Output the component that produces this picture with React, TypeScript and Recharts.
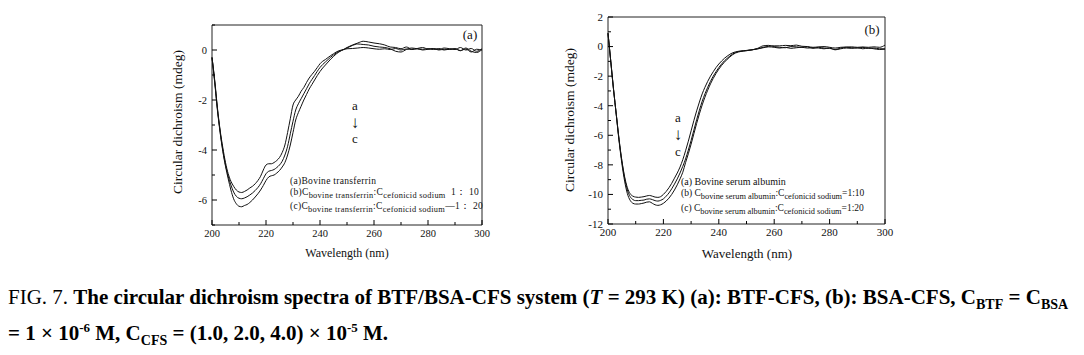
import React from 'react';
import { LineChart, Line, XAxis, YAxis, ReferenceArea } from 'recharts';

// wavelength grid (nm), shared by both panels
const WAVELENGTH = [
  200, 201, 202, 203, 204, 205, 206, 207, 208, 209, 210, 211, 212, 213, 214, 215, 216, 217, 218, 219,
  220, 221, 222, 223, 224, 225, 226, 227, 228, 229, 230, 231, 232, 233, 234, 235, 236, 237, 238, 239,
  240, 241, 242, 243, 244, 245, 246, 247, 248, 249, 250,
  252, 254, 256, 258, 260, 262, 264, 266, 268, 270, 272, 274, 276, 278, 280, 282, 284, 286, 288, 290,
  292, 294, 296, 298, 300,
];

// panel (a): bovine transferrin
const BTF_A = [
  -0.3, -1.2, -2.3, -3.2, -3.9, -4.5, -4.95, -5.25, -5.45, -5.6, -5.68, -5.7, -5.66, -5.6, -5.52, -5.45, -5.35, -5.22, -5.05, -4.8,
  -4.6, -4.55, -4.55, -4.5, -4.42, -4.3, -4.1, -3.8, -3.3, -2.75, -2.2, -2.0, -1.85, -1.65, -1.5, -1.3, -1.12, -0.98, -0.85, -0.7,
  -0.55, -0.45, -0.38, -0.3, -0.22, -0.15, -0.08, -0.03, 0.0, 0.02, 0.05,
  0.06, 0.08, 0.1, 0.08, 0.05, 0.03, 0.05, 0.02, 0.06, 0.0, 0.04, 0.02, 0.05, 0.0, 0.03, 0.05, 0.0, 0.03, 0.02, 0.05,
  -0.02, 0.04, -0.08, 0.03, 0.0,
];
const BTF_B = [
  -0.3, -1.25, -2.35, -3.25, -4.0, -4.6, -5.05, -5.4, -5.68, -5.85, -5.93, -5.95, -5.92, -5.87, -5.8, -5.72, -5.62, -5.5, -5.35, -5.15,
  -4.95, -4.85, -4.82, -4.78, -4.7, -4.6, -4.45, -4.2, -3.85, -3.35, -2.85, -2.4, -2.15, -1.95, -1.75, -1.55, -1.35, -1.18, -1.02, -0.85,
  -0.7, -0.58, -0.48, -0.38, -0.28, -0.2, -0.12, -0.06, -0.01, 0.03, 0.08,
  0.18, 0.24, 0.22, 0.2, 0.15, 0.12, 0.1, 0.05, -0.05, -0.08, 0.02, 0.08, 0.05, 0.03, 0.05, 0.02, 0.06, 0.0, 0.04, 0.05,
  -0.03, 0.08, -0.05, -0.1, 0.02,
];
const BTF_C = [
  -0.3, -1.3, -2.4, -3.3, -4.05, -4.65, -5.15, -5.6, -5.95, -6.15, -6.25, -6.27, -6.22, -6.18, -6.1, -6.0, -5.88, -5.75, -5.6, -5.42,
  -5.22, -5.08, -5.03, -5.0, -4.92, -4.82, -4.68, -4.5, -4.2, -3.8, -3.3, -2.8, -2.5, -2.25, -2.0, -1.78, -1.56, -1.38, -1.2, -1.02,
  -0.86, -0.72, -0.6, -0.48, -0.36, -0.26, -0.16, -0.08, -0.02, 0.04, 0.1,
  0.2, 0.28, 0.35, 0.32, 0.28, 0.25, 0.2, 0.12, 0.1, 0.05, 0.12, 0.03, 0.06, 0.1, 0.04, 0.06, 0.02, 0.08, 0.05, 0.02,
  0.1, 0.0, 0.06, -0.05, 0.05,
];

// panel (b): bovine serum albumin
const BSA_A = [
  0.9, -1.0, -2.9, -4.6, -6.3, -7.7, -8.8, -9.55, -9.95, -10.12, -10.18, -10.2, -10.18, -10.15, -10.1, -10.07, -10.12, -10.18, -10.2, -10.15,
  -10.0, -9.8, -9.55, -9.25, -8.9, -8.55, -8.15, -7.65, -7.05, -6.4, -5.7, -5.0, -4.35, -3.75, -3.2, -2.75, -2.35, -2.0, -1.7, -1.42,
  -1.18, -0.98, -0.8, -0.65, -0.52, -0.42, -0.36, -0.32, -0.3, -0.28, -0.26,
  -0.22, -0.15, -0.05, 0.02, 0.05, 0.05, 0.08, 0.06, 0.1, 0.02, 0.0, -0.05, -0.02, 0.0, -0.05, -0.1, -0.05, -0.03, -0.02, -0.05,
  -0.03, -0.05, -0.02, -0.05, 0.1,
];
const BSA_B = [
  0.9, -1.0, -2.9, -4.6, -6.3, -7.75, -8.9, -9.7, -10.15, -10.35, -10.42, -10.42, -10.4, -10.38, -10.32, -10.3, -10.35, -10.42, -10.45, -10.4,
  -10.3, -10.12, -9.9, -9.62, -9.3, -8.95, -8.55, -8.1, -7.6, -7.0, -6.35, -5.65, -4.95, -4.3, -3.7, -3.2, -2.75, -2.35, -2.0, -1.7,
  -1.42, -1.18, -0.97, -0.8, -0.64, -0.5, -0.4, -0.34, -0.31, -0.29, -0.27,
  -0.22, -0.12, 0.05, 0.08, 0.0, -0.05, -0.08, 0.0, -0.02, -0.05, -0.02, -0.12, -0.05, -0.1, -0.12, -0.2, -0.1, -0.05, -0.08, -0.1,
  -0.05, -0.12, -0.1, -0.15, -0.15,
];
const BSA_C = [
  0.9, -1.0, -2.9, -4.65, -6.4, -7.9, -9.1, -9.95, -10.4, -10.6, -10.65, -10.65, -10.62, -10.58, -10.52, -10.5, -10.6, -10.7, -10.74, -10.7,
  -10.6, -10.45, -10.25, -10.0, -9.7, -9.35, -8.95, -8.5, -7.85, -7.25, -6.6, -5.9, -5.2, -4.55, -3.95, -3.42, -2.95, -2.52, -2.15, -1.82,
  -1.53, -1.28, -1.06, -0.87, -0.7, -0.55, -0.44, -0.37, -0.33, -0.3, -0.28,
  -0.22, -0.16, -0.08, -0.02, -0.05, -0.1, -0.05, -0.12, -0.08, -0.05, -0.1, -0.08, -0.1, -0.15, -0.1, -0.22, -0.15, -0.1, -0.12, -0.08,
  -0.15, -0.1, -0.15, -0.2, -0.18,
];

const X_TICKS = [200, 210, 220, 230, 240, 250, 260, 270, 280, 290, 300];
const X_LABELS = [200, 220, 240, 260, 280, 300];
const Y_TICKS_A = [-7, -6, -5, -4, -3, -2, -1, 0, 1];
const Y_LABELS_A = [-6, -4, -2, 0];
const Y_TICKS_B = [-12, -11, -10, -9, -8, -7, -6, -5, -4, -3, -2, -1, 0, 1, 2];
const Y_LABELS_B = [-12, -10, -8, -6, -4, -2, 0, 2];

const dataA = WAVELENGTH.map((w, i) => ({ w, a: BTF_A[i], b: BTF_B[i], c: BTF_C[i] }));
const dataB = WAVELENGTH.map((w, i) => ({ w, a: BSA_A[i], b: BSA_B[i], c: BSA_C[i] }));

const FONT = '"Liberation Serif", "Times New Roman", serif';

const XTick = ({ x, payload, bottom, fontSize }: any) => {
  const major = X_LABELS.includes(payload.value);
  return (
    <g>
      <line x1={x} x2={x} y1={bottom} y2={bottom - (major ? 5 : 3)} stroke="#000" />
      {major && (
        <text x={x} y={bottom + 12} textAnchor="middle" fontSize={fontSize} fontFamily={FONT} fill="#111">
          {payload.value}
        </text>
      )}
    </g>
  );
};

const YTick = ({ y, payload, left, labels, fontSize }: any) => {
  const major = labels.includes(payload.value);
  return (
    <g>
      <line x1={left} x2={left + (major ? 5 : 3)} y1={y} y2={y} stroke="#000" />
      {major && (
        <text x={left - 5} y={y} dy="0.35em" textAnchor="end" fontSize={fontSize} fontFamily={FONT} fill="#111">
          {payload.value}
        </text>
      )}
    </g>
  );
};

const Note = ({ x, y, size, children, rotate }: any) => (
  <div
    style={{
      position: 'absolute',
      left: x,
      top: y,
      transform: `translate(-50%, -50%)${rotate ? ' rotate(-90deg)' : ''}`,
      fontSize: size,
      fontFamily: FONT,
      whiteSpace: 'nowrap',
      color: '#111',
      lineHeight: 1,
    }}
  >
    {children}
  </div>
);

const Row = ({ x, y, size, spacing = 0, children }: any) => (
  <div
    style={{
      position: 'absolute',
      left: x,
      top: y,
      transform: 'translateY(-50%)',
      fontSize: size,
      letterSpacing: spacing,
      fontFamily: FONT,
      whiteSpace: 'nowrap',
      color: '#111',
      lineHeight: 1,
    }}
  >
    {children}
  </div>
);

const sub = { fontSize: '0.88em', verticalAlign: '-0.3em' } as const;

const Panel = ({ data, width, height, margin, yWidth, ticks, labels, domain, fontSize }: any) => {
  const bottom = height - margin.bottom - 25;
  return (
    <LineChart width={width} height={height} data={data} margin={margin}>
      <XAxis
        dataKey="w"
        type="number"
        domain={[200, 300]}
        ticks={X_TICKS}
        interval={0}
        height={25}
        axisLine={false}
        tickLine={false}
        tick={<XTick bottom={bottom} fontSize={fontSize} />}
      />
      <YAxis
        type="number"
        domain={domain}
        ticks={ticks}
        interval={0}
        width={yWidth}
        axisLine={false}
        tickLine={false}
        tick={<YTick left={yWidth + margin.left} labels={labels} fontSize={fontSize} />}
      />
      <ReferenceArea x1={200} x2={300} y1={domain[0]} y2={domain[1]} fill="none" stroke="#222" strokeWidth={1} />
      {['a', 'b', 'c'].map((k) => (
        <Line key={k} dataKey={k} type="monotone" stroke="#111" strokeWidth={1} dot={false} isAnimationActive={false} />
      ))}
    </LineChart>
  );
};

export default function App() {
  return (
    <div style={{ position: 'absolute', left: 0, top: 0, width: 1084, height: 355, background: '#fff', overflow: 'hidden' }}>
      <div style={{ position: 'absolute', left: 160, top: 0 }}>
        <Panel
          data={dataA}
          width={340}
          height={270}
          margin={{ top: 25, right: 18, bottom: 20, left: 0 }}
          yWidth={52}
          ticks={Y_TICKS_A}
          labels={Y_LABELS_A}
          domain={[-7, 1]}
          fontSize={10.5}
        />
      </div>
      <div style={{ position: 'absolute', left: 550, top: 0 }}>
        <Panel
          data={dataB}
          width={350}
          height={270}
          margin={{ top: 17, right: 15, bottom: 21, left: 0 }}
          yWidth={58}
          ticks={Y_TICKS_B}
          labels={Y_LABELS_B}
          domain={[-12, 2]}
          fontSize={11}
        />
      </div>

      {/* panel (a) texts */}
      <Note x={178} y={122} size={13.5} rotate>Circular dichroism (mdeg)</Note>
      <Note x={347} y={253} size={12}>Wavelength (nm)</Note>
      <Note x={470} y={34} size={13}>(a)</Note>
      <Note x={355} y={105} size={13}>a</Note>
      <Note x={355} y={122} size={17}>↓</Note>
      <Note x={355} y={138} size={13}>c</Note>
      <Row x={290} y={182} size={9.5} spacing={0.3}>(a)Bovine transferrin</Row>
      <Row x={290} y={194} size={9.5} spacing={0.3}>
        (b)C<span style={sub}>bovine transferrin</span>:C<span style={sub}>cefonicid sodium</span>&nbsp;&nbsp;1： 10
      </Row>
      <Row x={290} y={208} size={9.5} spacing={0.3}>
        (c)C<span style={sub}>bovine transferrin</span>:C<span style={sub}>cefonicid sodium</span>—1： 20
      </Row>

      {/* panel (b) texts */}
      <Note x={570} y={120} size={13.5} rotate>Circular dichroism (mdeg)</Note>
      <Note x={747} y={253} size={13}>Wavelength (nm)</Note>
      <Note x={872} y={29} size={13}>(b)</Note>
      <Note x={678} y={117} size={13}>a</Note>
      <Note x={678} y={134} size={17}>↓</Note>
      <Note x={678} y={151} size={13}>c</Note>
      <Row x={681} y={182} size={10}>(a) Bovine serum albumin</Row>
      <Row x={681} y={195} size={9.5}>
        (b) C<span style={sub}>bovine serum albumin</span>:C<span style={sub}>cefonicid sodium</span>=1:10
      </Row>
      <Row x={681} y={210} size={9.5}>
        (c) C<span style={sub}>bovine serum albumin</span>:C<span style={sub}>cefonicid sodium</span>=1:20
      </Row>

      {/* caption */}
      <div style={{ position: 'absolute', left: 8, top: 285, fontFamily: FONT, fontSize: 21, whiteSpace: 'nowrap', color: '#000' }}>
        FIG. 7. <b>The circular dichroism spectra of BTF/BSA-CFS system (<i>T</i> = 293 K) (a): BTF-CFS, (b): BSA-CFS, C<sub style={{ fontSize: 14 }}>BTF</sub> = C<sub style={{ fontSize: 14 }}>BSA</sub></b>
      </div>
      <div style={{ position: 'absolute', left: 8, top: 320, fontFamily: FONT, fontSize: 21, whiteSpace: 'nowrap', color: '#000' }}>
        <b>= 1 × 10<sup style={{ fontSize: 13 }}>-6</sup> M, C<sub style={{ fontSize: 14 }}>CFS</sub> = (1.0, 2.0, 4.0) × 10<sup style={{ fontSize: 13 }}>-5</sup> M.</b>
      </div>
    </div>
  );
}
